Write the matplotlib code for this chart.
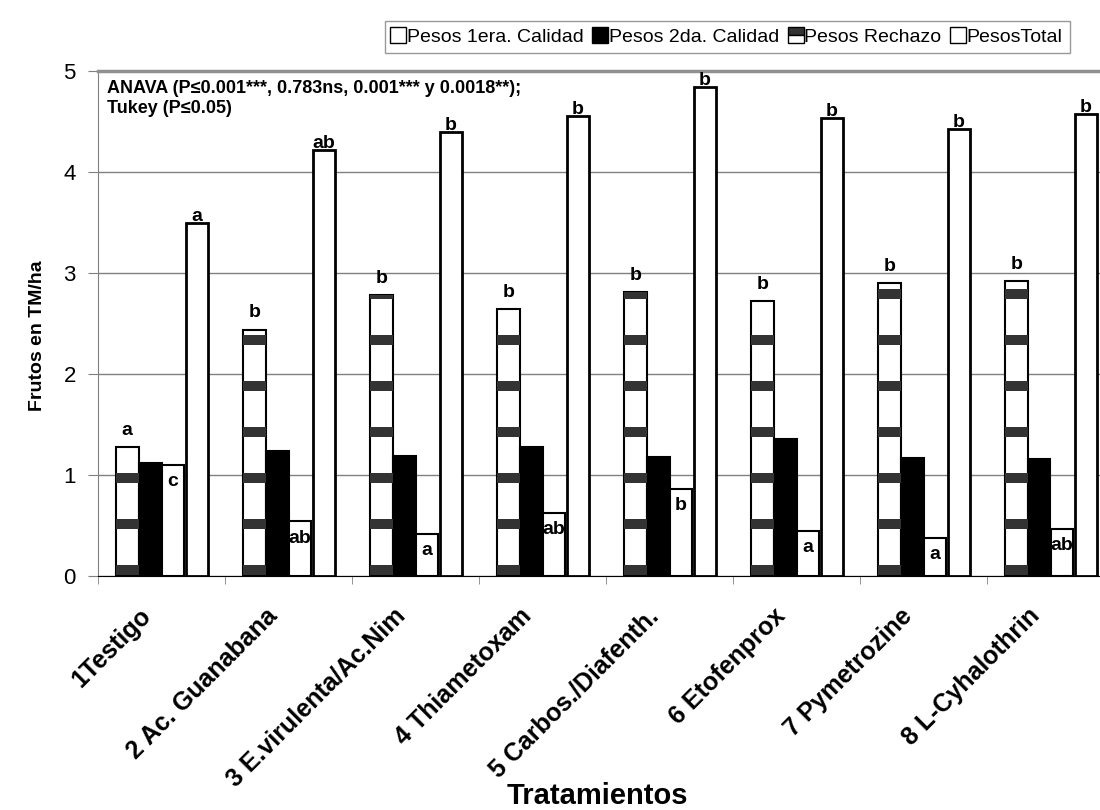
import numpy as np
import matplotlib
matplotlib.use("Agg")
import matplotlib.pyplot as plt
from matplotlib.patches import Rectangle
from matplotlib.lines import Line2D
from matplotlib.transforms import ScaledTranslation

plt.rcParams['font.family'] = ['Liberation Sans', 'DejaVu Sans']

# datos (TM/ha)
tratamientos = ['1Testigo', '2 Ac. Guanabana', '3 E.virulenta/Ac.Nim', '4 Thiametoxam',
                '5 Carbos./Diafenth.', '6 Etofenprox', '7 Pymetrozine', '8 L-Cyhalothrin']
primera = [1.28, 2.44, 2.78, 2.64, 2.81, 2.72, 2.90, 2.92]
segunda = [1.12, 1.24, 1.19, 1.28, 1.18, 1.36, 1.17, 1.16]
rechazo = [1.10, 0.54, 0.42, 0.62, 0.86, 0.45, 0.38, 0.47]
total = [3.50, 4.22, 4.40, 4.55, 4.84, 4.53, 4.43, 4.57]
letras_primera = ['a', 'b', 'b', 'b', 'b', 'b', 'b', 'b']
letras_rechazo = ['c', 'ab', 'a', 'ab', 'b', 'a', 'a', 'ab']
letras_total = ['a', 'ab', 'b', 'b', 'b', 'b', 'b', 'b']

fig = plt.figure(figsize=(11, 8.1), dpi=100)
ax = fig.add_axes([98/1100, 1 - 576/810, 1016/1100, 505/810])

x = np.arange(len(tratamientos))
w = 0.18
b1 = ax.bar(x - 0.27, primera, w, color='white', edgecolor='black', lw=1.5, zorder=3)
b2 = ax.bar(x - 0.09, segunda, w, color='black', edgecolor='black', lw=1.5, zorder=3)
b3 = ax.bar(x + 0.09, rechazo, w, color='white', edgecolor='black', lw=1.5, zorder=3)
b4 = ax.bar(x + 0.28, total, w, color='white', edgecolor='black', lw=2, zorder=3)

# textura de franjas horizontales de la 1era calidad
for rect in b1:
    for y0 in np.arange(0.01, rect.get_height(), 0.455):
        band = Rectangle((rect.get_x(), y0), rect.get_width(), 0.1,
                         facecolor='#333333', lw=0, zorder=3.5)
        ax.add_patch(band)
        band.set_clip_path(rect)

# letras Tukey
for rect, t in zip(b1, letras_primera):
    ax.text(rect.get_x() + rect.get_width()/2, rect.get_height() + 0.08, t,
            ha='center', va='bottom', fontsize=14, fontweight='bold', zorder=5)
for rect, t in zip(b3, letras_rechazo):
    ax.text(rect.get_x() + rect.get_width()/2, rect.get_height() - 0.08, t,
            ha='center', va='top', fontsize=14, fontweight='bold', zorder=5)
for rect, t in zip(b4, letras_total):
    ax.text(rect.get_x() + rect.get_width()/2, rect.get_height() - 0.02, t,
            ha='center', va='bottom', fontsize=14, fontweight='bold', zorder=5)

ax.set_xlim(-0.5, len(tratamientos) - 0.5)
ax.set_ylim(0, 5)
ax.set_yticks(range(6))
ax.tick_params(axis='y', labelsize=16, length=7, color='#808080', pad=9)
ax.set_axisbelow(True)
ax.yaxis.grid(True, color='#808080', lw=1)

ax.set_xticks(x)
ax.set_xticklabels(tratamientos, fontsize=18, fontweight='bold', rotation=45,
                   ha='right', va='top', rotation_mode='anchor')
ax.set_xticks(np.arange(-0.5, len(tratamientos), 1), minor=True)
ax.tick_params(axis='x', which='major', length=0, pad=20)
ax.tick_params(axis='x', which='minor', length=6, color='#808080')
off = ScaledTranslation(-0.23, 0, fig.dpi_scale_trans)
for lab in ax.get_xticklabels():
    lab.set_transform(lab.get_transform() + off)

ax.spines['top'].set_color('#909090')
ax.spines['top'].set_linewidth(2.5)
ax.spines['left'].set_color('#808080')
ax.spines['bottom'].set_color('black')
ax.spines['right'].set_visible(False)

fig.text(38/1100, 1 - 336/810, 'Frutos en TM/ha', rotation=90, ha='center',
         va='center', fontsize=14, fontweight='bold')
fig.text(597/1100, 1 - 796/810, 'Tratamientos', ha='center', va='center',
         fontsize=21, fontweight='bold')

fig.text(107/1100, 1 - 80/810,
         'ANAVA (P≤0.001***, 0.783ns, 0.001*** y 0.0018**);\nTukey (P≤0.05)',
         ha='left', va='top', fontsize=13, fontweight='bold', linespacing=1.2)

handles = [
    Line2D([], [], marker='s', ls='none', ms=11, mfc='white', mec='black', mew=1),
    Line2D([], [], marker='s', ls='none', ms=11, mfc='black', mec='black', mew=1),
    Line2D([], [], marker='s', ls='none', ms=11, fillstyle='top', mfc='#333333',
           mfcalt='white', mec='black', mew=1),
    Line2D([], [], marker='s', ls='none', ms=11, mfc='white', mec='black', mew=1),
]
labels = ['Pesos 1era. Calidad', 'Pesos 2da. Calidad', 'Pesos Rechazo', 'PesosTotal']
leg = fig.legend(handles, labels, loc='center', bbox_to_anchor=(727/1100, 1 - 37/810),
                 ncol=4, fontsize=14, handlelength=0.7, handletextpad=0.1,
                 columnspacing=0.5, fancybox=False, edgecolor='#808080',
                 borderpad=0.35, frameon=True)
leg.get_frame().set_linewidth(1)

fig.savefig('out.png', dpi=100)
